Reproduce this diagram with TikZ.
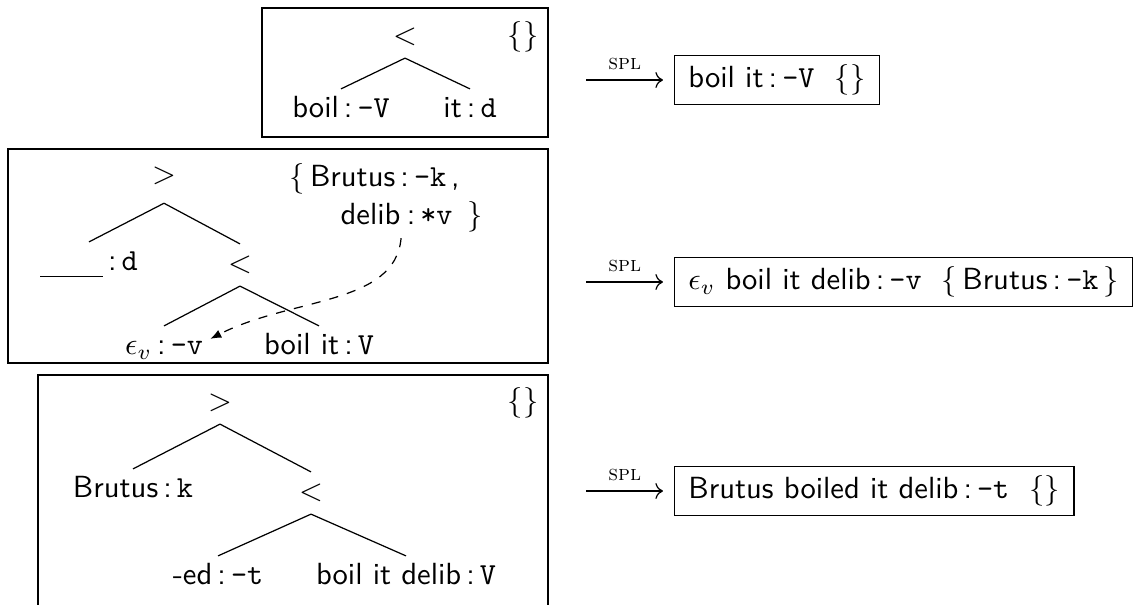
\documentclass[tikz,border=0pt]{standalone}
\usepackage{amsmath}
\usetikzlibrary{arrows.meta,positioning}
\newcommand{\lexitem}[2]{#1\,:\,\texttt{#2}}

\begin{document}
\begin{tikzpicture}[
  x=0.3268pt, y=-0.3268pt,
  every node/.style={font=\sffamily},
  every path/.style={line width=0.4pt},
  tnode/.style={inner xsep=2.2pt, inner ysep=2.2pt,
                text height=7pt, text depth=2pt},
  setnode/.style={inner xsep=0pt, inner ysep=2.2pt,
                  text height=7pt, text depth=2pt},
  result/.style={draw, inner xsep=4.5pt, inner ysep=3pt,
                 text height=7.5pt, text depth=2.5pt},
  spl/.style={->, shorten >=3.6pt},
  splabel/.style={font=\scriptsize\rmfamily, inner sep=3pt},
  movelink/.style={dashed, -{Latex[length=3.6pt,width=2.8pt]}},
]
\useasboundingbox (0,0) rectangle (1134,604);

% --- Tree 1: boil < it ---
\draw (262,8) rectangle (548,137);
\node[tnode] (lt1)  at (405,37)  {$<$};
\node[tnode] (boil) at (341,110) {\lexitem{boil}{-V}};
\node[tnode] (it)   at (470,110) {\lexitem{it}{d}};
\node[tnode] (mv1)  at (523,37)  {$\{\}$};
\draw (lt1.south) -- (boil.north);
\draw (lt1.south) -- (it.north);

% --- Tree 2: specifier over < with moving delib ---
\draw (8,149) rectangle (548,363);
\node[tnode, inner ysep=4.2pt] (gt2) at (164,176) {$>$};
\node[tnode] (gap)    at (89,263)  {\rule[-2pt]{20.5pt}{0.4pt}\,:\,\texttt{d}};
\node[tnode] (lt2)    at (240,265) {$<$};
\node[tnode] (eps)    at (164,347) {\lexitem{$\epsilon_v$}{-v}};
\node[tnode] (boilit) at (319,347) {\lexitem{boil it}{V}};
\node[setnode, anchor=west] (mv2a) at (289,179) {$\{$\,\lexitem{Brutus}{-k}\,,};
\node[setnode, anchor=west] (delib) at (340,217) {delib};
\node[setnode, right=0pt of delib] (mv2b) {\,:\,\texttt{*v}\hspace{5pt}$\}$};
\draw (gt2.south) -- (gap.north);
\draw (gt2.south) -- (lt2.north);
\draw (lt2.south) -- (eps.north);
\draw (lt2.south) -- (boilit.north);
\draw[movelink] (delib.south east) .. controls +(-95:22pt) and +(27:30pt) .. (eps.10);

% --- Tree 3: Brutus > (-ed < boil it delib) ---
\draw (38,375) rectangle (548,607);
\node[tnode] (gt3)    at (220,403) {$>$};
\node[tnode] (brutus) at (133,490) {\lexitem{Brutus}{k}};
\node[tnode] (lt3)    at (311,493) {$<$};
\node[tnode] (ed)     at (218,577) {\lexitem{-ed}{-t}};
\node[tnode] (bid)    at (406,577) {\lexitem{boil it delib}{V}};
\node[tnode] (mv3)    at (523,403) {$\{\}$};
\draw (gt3.south) -- (brutus.north);
\draw (gt3.south) -- (lt3.north);
\draw (lt3.south) -- (ed.north);
\draw (lt3.south) -- (bid.north);

% --- Spell-out results ---
\node[result, anchor=west] (res1) at (674,80)  {\lexitem{boil it}{-V}~~$\{\}$};
\node[result, anchor=west] (res2) at (674,282) {$\epsilon_v$ \lexitem{boil it delib}{-v}~~$\{$\,\lexitem{Brutus}{-k}\,$\}$};
\node[result, anchor=west] (res3) at (674,491) {\lexitem{Brutus boiled it delib}{-t}~~$\{\}$};

\coordinate (s1) at (586,80);
\coordinate (s2) at (586,282);
\coordinate (s3) at (586,491);
\draw[spl] (s1) -- node[splabel, above, pos=0.44] (l1) {\textsc{spl}} (res1.west);
\draw[spl] (s2) -- node[splabel, above, pos=0.44] (l2) {\textsc{spl}} (res2.west);
\draw[spl] (s3) -- node[splabel, above, pos=0.44] (l3) {\textsc{spl}} (res3.west);
\end{tikzpicture}
\end{document}
